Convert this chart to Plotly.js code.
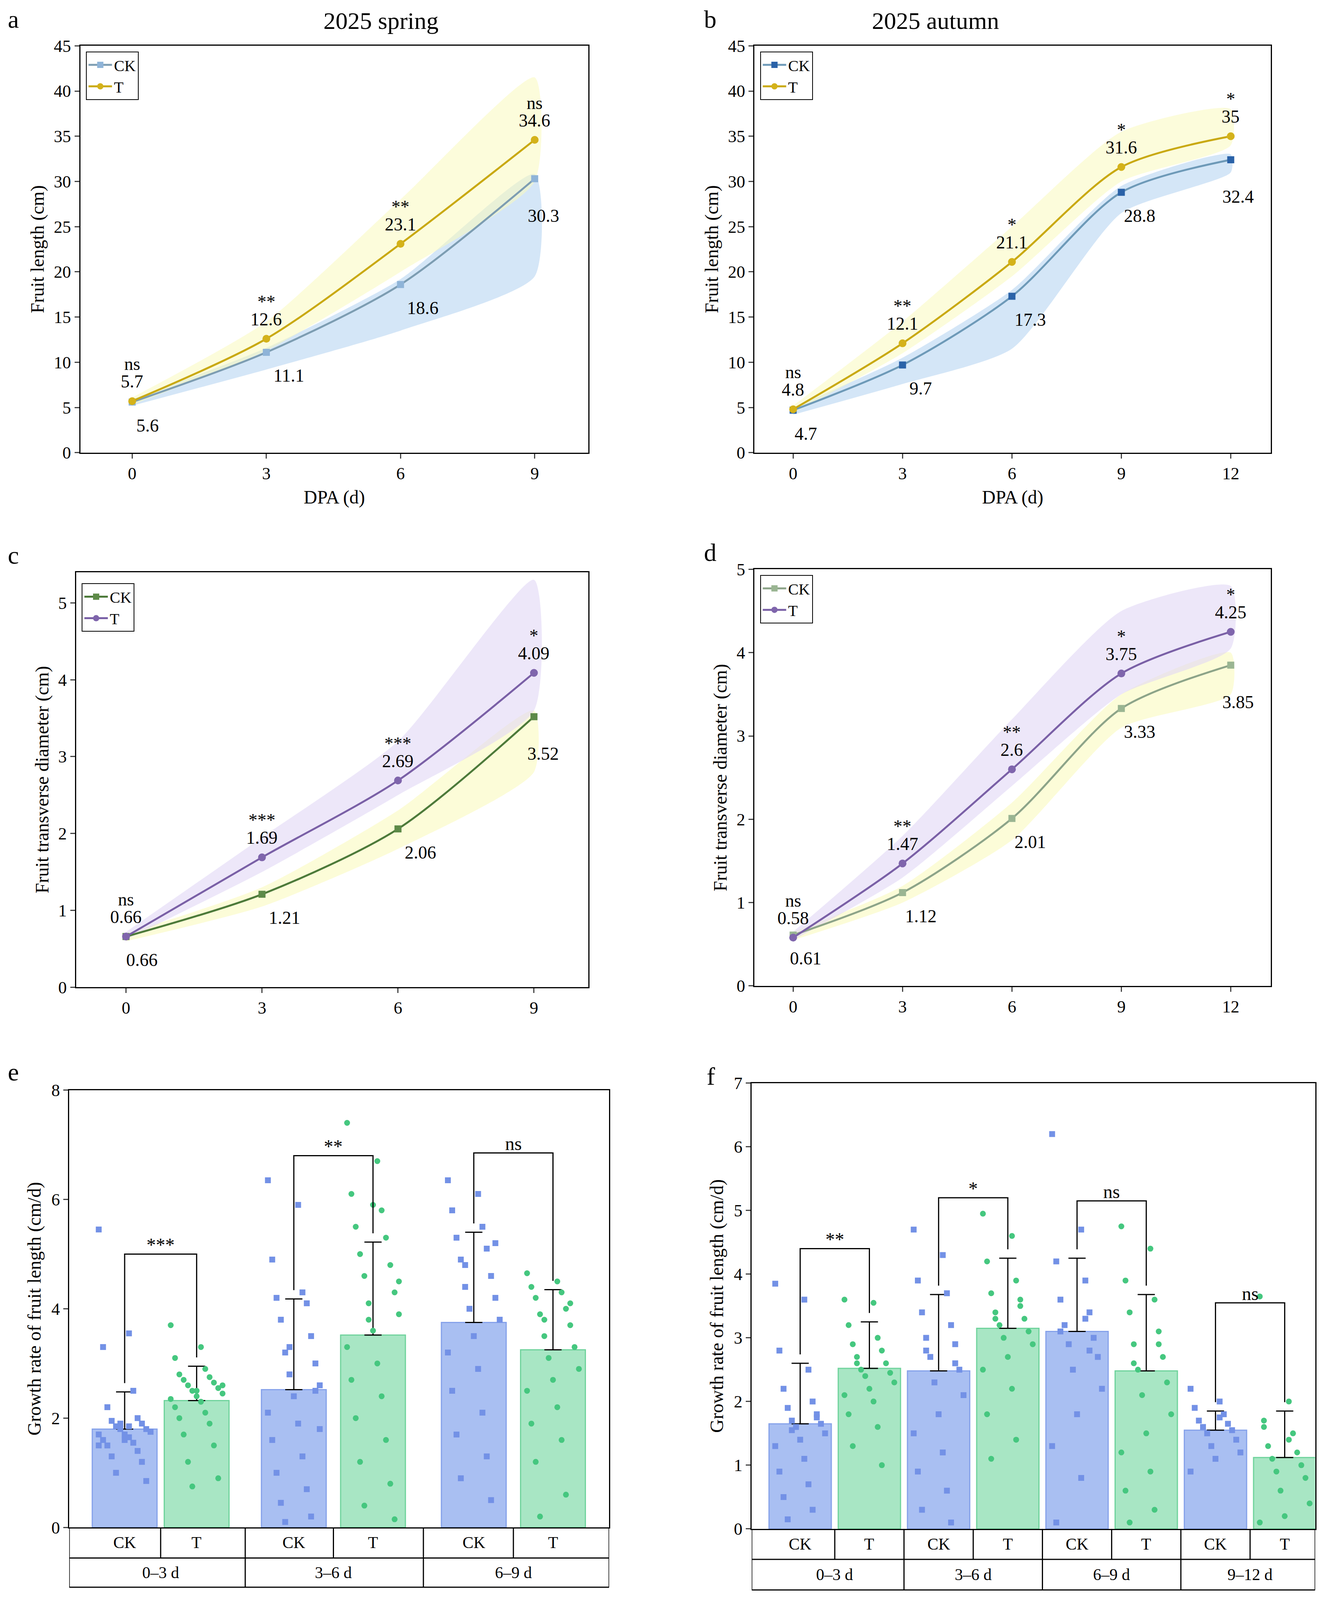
<!DOCTYPE html>
<html><head><meta charset="utf-8">
<script src="https://cdn.plot.ly/plotly-3.0.1.min.js"></script>
<style>html,body{margin:0;padding:0;background:#fff;overflow:hidden}#chart{width:3402px;height:5574px}</style>
</head><body><div id="chart"></div>
<script>
// ---- line panels data ----
const daysA = [0, 3, 6, 9];
const daysB = [0, 3, 6, 9, 12];
const lenSpringCK = [5.6, 11.1, 18.6, 30.3];
const lenSpringT = [5.7, 12.6, 23.1, 34.6];
const lenSpringSig = ['ns', '**', '**', 'ns'];
const lenSpringCKLo = [5.2, 9.2, 13.5, 19.5], lenSpringCKHi = [5.9, 11.6, 19.2, 30.8];
const lenSpringTLo = [5.3, 11.3, 20.0, 30.0], lenSpringTHi = [6.1, 14.5, 28.0, 41.5];
const lenAutCK = [4.7, 9.7, 17.3, 28.8, 32.4];
const lenAutT = [4.8, 12.1, 21.1, 31.6, 35];
const lenAutSig = ['ns', '**', '*', '*', '*'];
const lenAutCKLo = [4.2, 7.6, 11.5, 26.5, 31.0], lenAutCKHi = [5.0, 10.5, 18.0, 29.5, 33.0];
const lenAutTLo = [4.4, 11.0, 19.5, 30.0, 34.0], lenAutTHi = [5.2, 14.5, 25.0, 35.5, 38.0];
const diaSpringCK = [0.66, 1.21, 2.06, 3.52];
const diaSpringT = [0.66, 1.69, 2.69, 4.09];
const diaSpringSig = ['ns', '***', '***', '*'];
const diaSpringCKLo = [0.6, 1.05, 1.8, 2.8], diaSpringCKHi = [0.7, 1.3, 2.3, 3.6];
const diaSpringTLo = [0.62, 1.5, 2.5, 3.6], diaSpringTHi = [0.72, 1.95, 3.2, 5.3];
const diaAutCK = [0.61, 1.12, 2.01, 3.33, 3.85];
const diaAutT = [0.58, 1.47, 2.6, 3.75, 4.25];
const diaAutSig = ['ns', '**', '**', '*', '*'];
const diaAutCKLo = [0.55, 1.0, 1.75, 3.1, 3.5], diaAutCKHi = [0.65, 1.2, 2.2, 3.5, 4.0];
const diaAutTLo = [0.55, 1.3, 2.4, 3.5, 4.05], diaAutTHi = [0.65, 1.8, 3.2, 4.5, 4.8];

// ---- bar panels data ----
const groups3 = ['0–3 d', '3–6 d', '6–9 d'];
const groups4 = ['0–3 d', '3–6 d', '6–9 d', '9–12 d'];
const eMean = [1.8, 2.32, 2.52, 3.52, 3.75, 3.25];
const eErr = [0.68, 0.63, 1.66, 1.7, 1.65, 1.1];
const eSig = ['***', '**', 'ns'], eBracket = [5.0, 6.8, 6.85];
const ePts = [
  [5.45,3.55,3.3,2.5,2.2,2.0,1.95,1.9,1.85,1.8,1.8,1.75,1.7,1.7,1.65,1.6,1.55,1.5,1.4,1.3,1.2,1.0,0.85,1.9,1.75,1.6,1.5,1.85],
  [3.7,3.3,3.1,2.9,2.8,2.75,2.7,2.65,2.6,2.55,2.5,2.45,2.4,2.35,2.3,2.2,2.1,2.0,1.9,1.7,1.5,1.2,0.9,0.75,2.6,2.5],
  [6.35,5.9,4.9,4.3,4.2,4.1,3.8,3.5,3.2,3.0,2.8,2.6,2.4,2.1,1.9,1.6,1.3,1.0,0.7,0.45,0.2,0.1,2.5,3.3,1.8],
  [7.4,6.7,6.1,5.8,5.5,5.3,5.0,4.8,4.6,4.3,4.1,3.9,3.6,3.3,3.0,2.7,2.4,2.0,1.6,1.2,0.8,0.4,0.15,3.8,4.5,5.9],
  [6.35,6.1,5.8,5.5,5.3,5.1,4.9,4.6,4.4,4.2,4.0,3.8,3.5,3.2,2.9,2.5,2.1,1.7,1.3,0.9,0.5,4.8,5.2],
  [4.65,4.5,4.4,4.3,4.2,4.0,3.9,3.7,3.5,3.3,3.1,2.9,2.7,2.5,2.2,1.9,1.6,1.2,0.6,0.2,4.1,3.8]];
const fMean = [1.65, 2.52, 2.48, 3.15, 3.1, 2.48, 1.55, 1.12];
const fErr = [0.95, 0.73, 1.2, 1.1, 1.15, 1.2, 0.3, 0.73];
const fSig = ['**', '*', 'ns', 'ns'], fBracket = [4.4, 5.2, 5.15, 3.55];
const fPts = [
  [3.85,3.6,2.8,2.5,2.2,2.0,1.9,1.8,1.7,1.65,1.6,1.5,1.4,1.3,1.1,0.9,0.7,0.5,0.3,0.15,1.75,1.55],
  [3.6,3.55,3.2,3.0,2.9,2.8,2.7,2.6,2.5,2.45,2.4,2.3,2.2,2.1,2.0,1.8,1.6,1.3,1.0,2.6],
  [4.7,4.3,3.9,3.7,3.4,3.2,3.0,2.9,2.7,2.5,2.3,2.1,1.8,1.5,1.2,0.9,0.6,0.3,0.1,2.8,2.6],
  [4.95,4.6,4.2,3.9,3.7,3.5,3.4,3.3,3.2,3.1,3.0,2.9,2.7,2.5,2.2,1.8,1.4,1.1,3.6,3.3],
  [6.2,4.7,4.2,3.9,3.6,3.4,3.2,3.0,2.9,2.7,2.5,2.2,1.8,1.3,0.8,0.1,3.3,3.1,2.8],
  [4.75,4.4,3.9,3.6,3.4,3.1,2.9,2.7,2.5,2.3,2.1,1.8,1.5,1.2,0.9,0.6,0.3,0.1,2.9,2.6],
  [2.2,2.0,1.9,1.8,1.7,1.65,1.6,1.55,1.5,1.4,1.3,1.2,1.1,0.9,1.75],
  [3.65,2.0,1.7,1.5,1.3,1.2,1.1,1.0,0.9,0.8,0.6,0.4,0.2,0.1,1.4,1.6]];
const gMean = [0.19, 0.355, 0.445, 0.345, 0.5, 0.51];
const gErr = [0.075, 0.035, 0.22, 0.14, 0.14, 0.165];
const gSig = ['***', '*', 'ns'], gBracket = [0.52, 0.79, 0.81];
const gPts = [
  [0.37,0.27,0.25,0.24,0.23,0.22,0.21,0.2,0.2,0.19,0.18,0.18,0.17,0.17,0.16,0.15,0.14,0.13,0.12,0.1,0.08,0.19,0.21],
  [0.47,0.44,0.42,0.4,0.39,0.38,0.37,0.37,0.36,0.36,0.35,0.35,0.34,0.34,0.33,0.33,0.32,0.31,0.3,0.29,0.27,0.36,0.35],
  [1.0,0.93,0.9,0.85,0.8,0.72,0.65,0.6,0.55,0.5,0.47,0.45,0.42,0.4,0.37,0.34,0.3,0.27,0.23,0.2,0.17,0.13,0.1,0.06,0.5,0.44],
  [0.67,0.63,0.6,0.55,0.5,0.47,0.44,0.41,0.38,0.36,0.34,0.32,0.3,0.28,0.26,0.23,0.2,0.17,0.14,0.12,0.35,0.4],
  [0.75,0.72,0.69,0.66,0.63,0.6,0.58,0.55,0.53,0.51,0.49,0.47,0.45,0.42,0.39,0.35,0.3,0.25,0.18,0.1,0.52,0.5],
  [1.0,0.84,0.73,0.68,0.65,0.62,0.59,0.57,0.55,0.53,0.51,0.5,0.49,0.47,0.46,0.44,0.42,0.4,0.37,0.3,0.2,0.5,0.48]];
const hMean = [0.31, 0.325, 0.345, 0.47, 0.36, 0.4, 0.285, 0.3];
const hErr = [0.255, 0.155, 0.125, 0.12, 0.09, 0.09, 0.23, 0.19];
const hSig = ['**', '*', 'ns', 'ns'], hBracket = [0.75, 0.76, 0.69, 0.62];
const hPts = [
  [0.97,0.93,0.8,0.55,0.45,0.4,0.35,0.32,0.3,0.28,0.25,0.23,0.21,0.19,0.17,0.15,0.13,0.11,0.1,0.22,0.27],
  [0.83,0.68,0.55,0.5,0.45,0.42,0.38,0.35,0.33,0.3,0.28,0.26,0.24,0.22,0.2,0.17,0.14,0.3,0.36],
  [0.7,0.53,0.48,0.45,0.42,0.4,0.38,0.36,0.34,0.33,0.32,0.3,0.28,0.26,0.23,0.2,0.15,0.09,0.35,0.37],
  [0.74,0.65,0.6,0.57,0.55,0.52,0.5,0.49,0.48,0.47,0.46,0.45,0.43,0.41,0.38,0.35,0.32,0.27,0.22,0.16,0.48,0.5],
  [0.53,0.5,0.45,0.42,0.4,0.38,0.37,0.36,0.35,0.34,0.33,0.31,0.28,0.24,0.18,0.36],
  [0.65,0.55,0.5,0.47,0.46,0.45,0.44,0.42,0.4,0.38,0.36,0.34,0.32,0.3,0.27,0.22,0.4,0.41],
  [0.93,0.89,0.45,0.38,0.33,0.3,0.28,0.26,0.24,0.22,0.2,0.17,0.14,0.28],
  [0.8,0.7,0.6,0.5,0.45,0.4,0.36,0.33,0.3,0.28,0.25,0.22,0.19,0.16,0.13,0.1,0.08,0.35,0.32]];

const FONT = 'Liberation Serif, Times New Roman, serif';
const traces = [], annotations = [], shapes = [];
const layout = {
  width: 3402, height: 5574, paper_bgcolor: '#fff', plot_bgcolor: '#fff',
  margin: {l: 0, r: 0, t: 0, b: 0}, font: {family: FONT, size: 44, color: '#000'},
  showlegend: true, annotations, shapes
};

function axis(dom, range, extra) {
  return Object.assign({domain: dom, range: range, showline: true, mirror: true, linecolor: '#000', linewidth: 3,
    ticks: 'outside', ticklen: 12, tickwidth: 3, showgrid: false, zeroline: false,
    tickfont: {family: FONT, size: 44}}, extra || {});
}
const fy = p => 1 - p / 1568, fx = p => p / 960;

// ---------- line panels ----------
function linePanel(n, xd, yd, xr, yr, xs, ck, t, sig, ckLo, ckHi, tLo, tHi, st, ytitle, xtitle, dtick, legName, legPos) {
  const xa = 'x' + (n === 1 ? '' : n), ya = 'y' + (n === 1 ? '' : n);
  layout['xaxis' + (n === 1 ? '' : n)] = axis(xd, xr, {anchor: ya, tickvals: xs,
    title: xtitle ? {text: xtitle, font: {size: 48}, standoff: 20} : undefined});
  layout['yaxis' + (n === 1 ? '' : n)] = axis(yd, yr, {anchor: xa, dtick: dtick,
    title: {text: ytitle, font: {size: 48}, standoff: 10}});
  const band = (lo, hi, col) => ({x: xs.concat(xs.slice().reverse()), y: hi.concat(lo.slice().reverse()),
    xaxis: xa, yaxis: ya, fill: 'toself', fillcolor: col, mode: 'lines', line: {width: 0, shape: 'spline', smoothing: 0.6},
    showlegend: false, hoverinfo: 'skip'});
  traces.push(band(ckLo, ckHi, st.ckBand), band(tLo, tHi, st.tBand));
  traces.push({x: xs, y: ck, xaxis: xa, yaxis: ya, name: 'CK', legend: legName, mode: 'lines+markers',
    line: {color: st.ckLine, width: 5, shape: 'spline', smoothing: 0.8}, marker: {symbol: 'square', size: 18, color: st.ckMark}});
  traces.push({x: xs, y: t, xaxis: xa, yaxis: ya, name: 'T', legend: legName, mode: 'lines+markers',
    line: {color: st.tLine, width: 5, shape: 'spline', smoothing: 0.8}, marker: {symbol: 'circle', size: 20, color: st.tMark}});
  layout[legName] = {x: legPos[0], y: legPos[1], xanchor: 'left', yanchor: 'top', bgcolor: '#fff',
    bordercolor: '#000', borderwidth: 2, font: {size: 40, family: FONT}, tracegroupgap: 0, itemwidth: 60};
  xs.forEach((x, i) => {
    annotations.push({x: x, y: t[i], xref: xa, yref: ya, text: String(t[i]), showarrow: false, yshift: 50, font: {size: 46}});
    annotations.push({x: x, y: t[i], xref: xa, yref: ya, text: sig[i], showarrow: false, yshift: 95, font: {size: 46}});
    const last = i === xs.length - 1;
    annotations.push({x: x + (i === 0 ? 0.35 : last ? 0.2 : 0.5), y: ck[i], xref: xa, yref: ya, text: String(ck[i]),
      showarrow: false, yshift: last ? -95 : -60, font: {size: 46}});
  });
}
const stLen = {ckBand: 'rgba(170,205,240,0.5)', tBand: 'rgba(250,250,190,0.55)', ckLine: '#7d9db2', ckMark: '#8fb4d8',
  tLine: '#c9a912', tMark: '#d4b21a'};
const stDia = {ckBand: 'rgba(250,250,190,0.6)', tBand: 'rgba(225,215,245,0.6)', ckLine: '#4d7a3a', ckMark: '#5d8a48',
  tLine: '#7a60a6', tMark: '#7f65ac'};
const stDiaB = Object.assign({}, stDia, {ckLine: '#8da489', ckMark: '#9ab592'});

linePanel(1, [fx(58), fx(425)], [fy(326), fy(33)], [-1.16, 10.2], [0, 45], daysA, lenSpringCK, lenSpringT, lenSpringSig,
  lenSpringCKLo, lenSpringCKHi, lenSpringTLo, lenSpringTHi, stLen, 'Fruit length (cm)', 'DPA (d)', 5, 'legend', [fx(62), fy(37)]);
linePanel(2, [fx(545), fx(918)], [fy(326), fy(33)], [-1.06, 13.1], [0, 45], daysB, lenAutCK, lenAutT, lenAutSig,
  lenAutCKLo, lenAutCKHi, lenAutTLo, lenAutTHi, Object.assign({}, stLen, {ckLine: '#6e9ab8', ckMark: '#2a62a8'}),
  'Fruit length (cm)', 'DPA (d)', 5, 'legend2', [fx(549), fy(37)]);
linePanel(3, [fx(55), fx(425)], [fy(711), fy(412)], [-1.1, 10.2], [0, 5.4], daysA, diaSpringCK, diaSpringT, diaSpringSig,
  diaSpringCKLo, diaSpringCKHi, diaSpringTLo, diaSpringTHi, stDia, 'Fruit transverse diameter (cm)', null, 1, 'legend3', [fx(59), fy(420)]);
linePanel(4, [fx(545), fx(918)], [fy(710), fy(410)], [-1.06, 13.1], [0, 5], daysB, diaAutCK, diaAutT, diaAutSig,
  diaAutCKLo, diaAutCKHi, diaAutTLo, diaAutTHi, stDiaB, 'Fruit transverse diameter (cm)', null, 1, 'legend4', [fx(549), fy(414)]);

// ---------- bar panels ----------
function jitter(i, w) { return (((i * 7) % 13) / 12 - 0.5) * w * 0.8; }
function barPanel(n, xd, yd, xs, xr, yr, dtick, means, errs, pts, sig, brk, groups, st, ytitle, bw, tableY) {
  const xa = 'x' + n, ya = 'y' + n;
  layout['xaxis' + n] = axis(xd, xr, {anchor: ya, showticklabels: false, ticks: ''});
  layout['yaxis' + n] = axis(yd, yr, {anchor: xa, dtick: dtick, title: {text: ytitle, font: {size: 48}, standoff: 12}});
  const isT = means.map((m, i) => i % 2 === 1);
  traces.push({type: 'bar', x: xs, y: means, width: bw, xaxis: xa, yaxis: ya, showlegend: false,
    marker: {color: isT.map(t => t ? st.tFill : st.ckFill), line: {color: isT.map(t => t ? st.tEdge : st.ckEdge), width: 3}},
    error_y: {type: 'data', symmetric: false, array: errs, arrayminus: errs.map(() => 0), color: '#000', thickness: 3, width: 22}});
  pts.forEach((arr, k) => {
    traces.push({type: 'scatter', mode: 'markers', xaxis: xa, yaxis: ya, showlegend: false,
      x: arr.map((v, i) => xs[k] + jitter(i, bw)), y: arr,
      marker: {symbol: k % 2 ? 'circle' : 'square', size: 15, color: k % 2 ? st.tPt : st.ckPt}});
  });
  sig.forEach((s, g) => {
    const x1 = xs[2 * g], x2 = xs[2 * g + 1];
    const l1 = means[2 * g] + errs[2 * g], l2 = means[2 * g + 1] + errs[2 * g + 1];
    const drop = (yr[1]) * 0.02;
    shapes.push({type: 'path', xref: xa, yref: ya, line: {color: '#000', width: 3},
      path: `M ${x1},${Math.min(l1 + drop, brk[g])} L ${x1},${brk[g]} L ${x2},${brk[g]} L ${x2},${Math.min(l2 + drop, brk[g])}`});
    annotations.push({x: (x1 + x2) / 2, y: brk[g], xref: xa, yref: ya, text: s, showarrow: false, yshift: 24, font: {size: 48}});
  });
  // table under axis
  const [y0, y1, y2] = tableY.map(fy);
  const L = (xa0, xb, ya0, yb) => shapes.push({type: 'line', xref: xa, yref: 'paper', x0: xa0, x1: xb, y0: ya0, y1: yb,
    line: {color: '#000', width: 3}});
  L(xr[0], xr[1], y1, y1); L(xr[0], xr[1], y2, y2);
  L(xr[0], xr[0], y0, y2); L(xr[1], xr[1], y0, y2);
  xs.forEach((x, i) => {
    annotations.push({x: x, y: (y0 + y1) / 2, xref: xa, yref: 'paper', yanchor: 'middle', text: i % 2 ? 'T' : 'CK',
      showarrow: false, font: {size: 42}});
    if (i < xs.length - 1) {
      const m = (x + xs[i + 1]) / 2;
      L(m, m, y0, i % 2 ? y2 : y1);
    }
  });
  groups.forEach((g, k) => annotations.push({x: (xs[2 * k] + xs[2 * k + 1]) / 2, y: (y1 + y2) / 2, xref: xa, yref: 'paper',
    yanchor: 'middle', text: g, showarrow: false, font: {size: 42}}));
}
const stLenBar = {ckFill: '#a9bff2', ckEdge: '#86a2ea', ckPt: '#7391e6', tFill: '#a8e6c4', tEdge: '#6fd39c', tPt: '#45c77f'};
const stDiaBar = {ckFill: '#c9b9de', ckEdge: '#9f8bc4', ckPt: '#8a72b4', tFill: '#f8b7d9', tEdge: '#ec6db3', tPt: '#e9489c'};
const GR = 'Growth rate of fruit length (cm/d)', GD = 'Growth rate of fruit transverse diameter (cm/d)';

barPanel(5, [fx(50), fx(440)], [fy(1100), fy(785)], [0, 1, 2.35, 3.45, 4.85, 5.95], [-0.77, 6.73], [0, 8], 2,
  eMean, eErr, ePts, eSig, eBracket, groups3, stLenBar, GR, 0.9, [1100, 1122, 1143]);
barPanel(6, [fx(543), fx(950)], [fy(1101), fy(780)], [0, 1, 2, 3, 4, 5, 6, 7], [-0.7, 7.44], [0, 7], 1,
  fMean, fErr, fPts, fSig, fBracket, groups4, stLenBar, GR, 0.9, [1101, 1123, 1145]);
barPanel(7, [fx(48), fx(445)], [fy(1523), fy(1195)], [0, 1, 2, 3, 4, 5], [-0.63, 5.67], [0, 1.13], 0.1,
  gMean, gErr, gPts, gSig, gBracket, groups3, stDiaBar, GD, 0.78, [1523, 1545, 1566]);
barPanel(8, [fx(542), fx(950)], [fy(1520), fy(1180)], [0, 1, 2, 3, 4, 5, 6, 7], [-0.85, 7.45], [0, 1.17], 0.2,
  hMean, hErr, hPts, hSig, hBracket, groups4, stDiaBar, GD, 0.9, [1520, 1542, 1563]);

// panel letters and titles
[['a', 5, 14], ['b', 508, 14], ['c', 5, 400], ['d', 508, 398], ['e', 5, 772], ['f', 510, 775], ['g', 5, 1188], ['h', 510, 1183]]
  .forEach(([t, x, y]) => annotations.push({x: fx(x), y: fy(y), xref: 'paper', yref: 'paper', text: t, showarrow: false,
    xanchor: 'left', yanchor: 'middle', font: {size: 64}}));
annotations.push({x: fx(233), y: fy(15), xref: 'paper', yref: 'paper', yanchor: 'middle', text: '2025 spring', showarrow: false, font: {size: 62}});
annotations.push({x: fx(722), y: fy(15), xref: 'paper', yref: 'paper', yanchor: 'middle', text: '2025 autumn', showarrow: false, font: {size: 62}});

Plotly.newPlot('chart', traces, layout, {staticPlot: true});
</script></body></html>
